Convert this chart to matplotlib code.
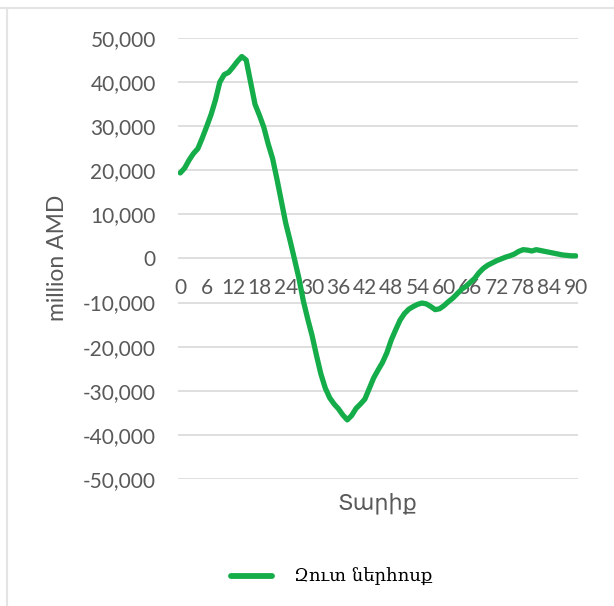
import matplotlib
matplotlib.use('Agg')
import matplotlib.pyplot as plt
from matplotlib.lines import Line2D

# Net inflow by age, million AMD
ages = list(range(0, 91))
net_inflow = [
    19400, 20500, 22300, 23800, 24900, 27300, 29900, 32600, 35900, 40000,
    41700, 42200, 43400, 44700, 45800, 45000, 40000, 35000, 32500, 29800,
    26000, 22700, 18000, 13000, 8000, 4000, -200, -4500, -9600, -13700,
    -17500, -22000, -26200, -29400, -31600, -33000, -34100, -35500, -36600, -35600,
    -34000, -33000, -31900, -29500, -27100, -25300, -23600, -21400, -18500, -16200,
    -14000, -12500, -11500, -10900, -10400, -10100, -10300, -10900, -11600, -11400,
    -10700, -9800, -9000, -8000, -7000, -6300, -5400, -4500, -3200, -2200,
    -1500, -1000, -500, -100, 300, 600, 1000, 1600, 2000, 1900,
    1700, 2000, 1800, 1600, 1400, 1200, 1000, 800, 700, 600,
    600,
]
x_ticks = list(range(0, 91, 6))
y_ticks = list(range(-50000, 50001, 10000))

series_name = 'Զուտ ներհոսք'
x_title = 'Տարիք'
y_title = 'million AMD'

GREEN = '#14ad4a'
GRAY = '#595959'
GRID = '#d9d9d9'

fig = plt.figure(figsize=(6.14, 6.06), dpi=100)
ax = fig.add_axes([0.29, 0.2096, 0.6514, 0.7277])

ax.plot(ages, net_inflow, color=GREEN, lw=3.8, solid_capstyle='round',
        solid_joinstyle='round', zorder=3)

ax.set_xlim(-0.5, 90.5)
ax.set_ylim(-50000, 50000)
ax.set_yticks(y_ticks)
ax.set_yticklabels([f'{v:,}' for v in y_ticks])
ax.set_xticks(x_ticks)
ax.set_xticklabels([str(v) for v in x_ticks])
ax.yaxis.grid(True, color=GRID, lw=1.2)
ax.set_axisbelow(True)

for s in ax.spines.values():
    s.set_visible(False)
ax.spines['bottom'].set_position(('data', 0))

ax.tick_params(axis='both', length=0, colors=GRAY, labelsize=15)
ax.tick_params(axis='y', pad=16)
ax.tick_params(axis='x', pad=14)
for t in ax.get_xticklabels() + ax.get_yticklabels():
    t.set_fontfamily('Lato')

fig.text(0.093, 0.574, y_title, rotation=90, ha='center', va='center',
         color=GRAY, fontsize=16.5, family='Lato')
fig.text(0.614, 0.170, x_title, ha='center', va='center',
         color=GRAY, fontsize=16, family='DejaVu Sans')

# legend at the bottom
leg = fig.legend([Line2D([], [], color=GREEN, lw=4.2, solid_capstyle='round')],
                 [series_name], loc='center', bbox_to_anchor=(0.54, 0.048),
                 frameon=False, handlelength=2.3, handletextpad=1.2,
                 prop={'family': 'DejaVu Serif', 'size': 13})

# chart frame
fig.add_artist(Line2D([0, 1], [0.987, 0.987], transform=fig.transFigure,
                      color='#e4e4e4', lw=1.5))
fig.add_artist(Line2D([0.011, 0.011], [0, 0.987], transform=fig.transFigure,
                      color='#e4e4e4', lw=1.5))

fig.savefig('out.png', dpi=100)
